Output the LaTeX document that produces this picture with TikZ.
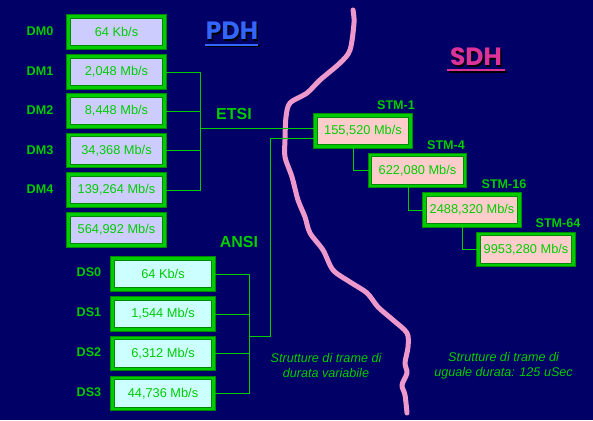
\documentclass[tikz,border=0pt]{standalone}
\usepackage{fontspec}
\setmainfont{Liberation Sans}
\newfontfamily\titlefont{Poppins}
\usetikzlibrary{calc}
\definecolor{bgnavy}{HTML}{000066}
\definecolor{brgreen}{HTML}{00CC00}
\definecolor{dkgreen}{HTML}{008800}
\definecolor{lav}{HTML}{CCCCFF}
\definecolor{cyanl}{HTML}{CCFFFF}
\definecolor{pinkl}{HTML}{FFCCCC}
\definecolor{pdhblue}{HTML}{3366FF}
\definecolor{sdhpink}{HTML}{DD3399}
\definecolor{river}{HTML}{EE99CC}
\tikzset{
  ratebox/.style={rectangle, draw=dkgreen, double=brgreen, double distance=2.8pt, line width=0.7pt,
    minimum height=31pt, inner sep=0pt, text=brgreen, font=\fontsize{12.8}{14}\selectfont},
  dmbox/.style={ratebox, fill=lav, minimum width=96pt},
  dsbox/.style={ratebox, fill=cyanl, minimum width=101pt},
  stmbox/.style={ratebox, fill=pinkl, minimum width=95pt},
  lbl/.style={text=brgreen, font=\bfseries\fontsize{12.6}{14}\selectfont},
  biglbl/.style={text=brgreen, font=\bfseries\fontsize{16}{18}\selectfont},
  wire/.style={draw=brgreen, line width=0.9pt},
  note/.style={text=brgreen, font=\itshape\fontsize{12.6}{15}\selectfont, align=center},
  ttl/.style={font=\titlefont\bfseries\fontsize{25}{28}\selectfont},
}
\begin{document}
\begin{tikzpicture}[x=1pt,y=-1pt]
\fill[bgnavy] (0,0) rectangle (593,420);
\useasboundingbox (0,0) rectangle (593,420);

% river
\draw[river, line width=5pt, line cap=round, line join=round]
 plot[smooth, tension=0.5] coordinates {(353,10) (354,23) (350,50) (340,63) (320,80) (307,93) (290,103) (286,117) (285,140) (285,157) (292,177) (298,200) (305,217) (310,233) (323,250) (333,270) (350,282) (367,293) (378,307) (393,320) (407,333) (408,347) (405,363) (407,373) (402,385) (405,395) (407,413)};

% titles
\node[ttl, text=black] at (233.5,32.5) {PDH};
\node (pdh) [ttl, text=pdhblue] at (232,31) {PDH};
\draw[black, line width=2pt] (206.5,46.5) -- (259.5,46.5);
\draw[pdhblue, line width=2pt] (205,45) -- (258,45);
\node[ttl, text=black] at (477.5,58.5) {SDH};
\node (sdh) [ttl, text=sdhpink] at (476,57) {SDH};
\draw[black, line width=2pt] (448.5,71.5) -- (506.5,71.5);
\draw[sdhpink, line width=2pt] (447,70) -- (505,70);

% DM boxes
\node[dmbox] (dm0) at (116.5,32) {64 Kb/s};
\node[dmbox] (dm1) at (116.5,72) {2,048 Mb/s};
\node[dmbox] (dm2) at (116.5,111) {8,448 Mb/s};
\node[dmbox] (dm3) at (116.5,150.5) {34,368 Mb/s};
\node[dmbox] (dm4) at (116.5,190) {139,264 Mb/s};
\node[dmbox] (dm5) at (116.5,230) {564,992 Mb/s};
\node[lbl] (ldm0) at (40,31) {DM0};
\node[lbl] (ldm1) at (40,71) {DM1};
\node[lbl] (ldm2) at (40,110) {DM2};
\node[lbl] (ldm3) at (40,150) {DM3};
\node[lbl] (ldm4) at (40,189) {DM4};

% DS boxes
\node[dsbox] (ds0) at (163,274) {64 Kb/s};
\node[dsbox] (ds1) at (163,314) {1,544 Mb/s};
\node[dsbox] (ds2) at (163,353.5) {6,312 Mb/s};
\node[dsbox] (ds3) at (163,393.5) {44,736 Mb/s};
\node[lbl] (lds0) at (89,272) {DS0};
\node[lbl] (lds1) at (89,312) {DS1};
\node[lbl] (lds2) at (89,352) {DS2};
\node[lbl] (lds3) at (89,392) {DS3};

% STM boxes
\node[stmbox] (stm1) at (363,131) {155,520 Mb/s};
\node[stmbox] (stm4) at (417.5,170.5) {622,080 Mb/s};
\node[stmbox] (stm16) at (472,210) {2488,320 Mb/s};
\node[stmbox] (stm64) at (526,249.5) {9953,280 Mb/s};
\node[lbl] (lstm1) at (396,105) {STM-1};
\node[lbl] (lstm4) at (446,145) {STM-4};
\node[lbl] (lstm16) at (504,184) {STM-16};
\node[lbl] (lstm64) at (558,223) {STM-64};

\node[biglbl] (etsi) at (234,114) {ETSI};
\node[biglbl] (ansi) at (239,242) {ANSI};

% ETSI connectors
\coordinate (eb) at (200,128);
\draw[wire] (dm1.east) -| (eb);
\draw[wire] (dm2.east) -| (eb);
\draw[wire] (dm3.east) -| (eb);
\draw[wire] (dm4.east) -| (eb);
\draw[wire] (eb) -- (eb -| stm1.west);

% ANSI connectors
\coordinate (ab) at (249,336);
\coordinate (ac) at (270,336);
\coordinate (s1in) at (270,138);
\draw[wire] (ds0.east) -| (ab);
\draw[wire] (ds1.east) -| (ab);
\draw[wire] (ds2.east) -| (ab);
\draw[wire] (ds3.east) -| (ab);
\draw[wire] (ab) -- (ac) -- (s1in) -- (s1in -| stm1.west);

% STM connectors
\draw[wire] ([xshift=-10pt]stm1.south) |- (stm4.west);
\draw[wire] ([xshift=-9.5pt]stm4.south) |- (stm16.west);
\draw[wire] ([xshift=-10pt]stm16.south) |- (stm64.west);

% notes
\node[note] (n1) at (326,365.5) {Strutture di trame di\\durata variabile};
\node[note] (n2) at (503.5,365.5) {Strutture di trame di\\uguale durata: 125 uSec};
\end{tikzpicture}
\end{document}
